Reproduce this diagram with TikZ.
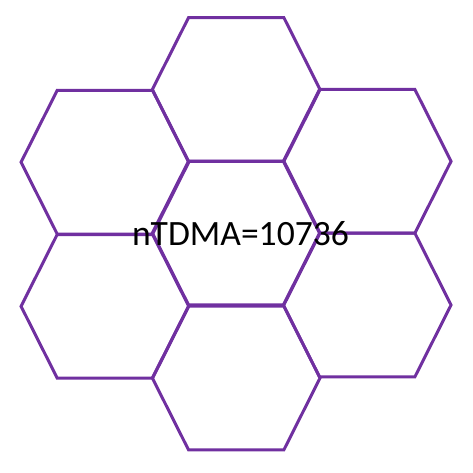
\documentclass[tikz,border=0pt]{standalone}
\usepackage{fontspec}
\setmainfont{Carlito}
\definecolor{hexpurple}{HTML}{7030A0}
\begin{document}
\begin{tikzpicture}[x=1pt,y=-1pt,
  hexcell/.style={draw=hexpurple,line width=3pt,line join=miter},
  lbl/.style={font=\fontsize{35.6}{40}\selectfont,text=black,inner sep=0pt,anchor=base}]
\useasboundingbox (0,0) rectangle (473,473);
\newcommand{\hexat}[3]{%
  \draw[hexcell] (#1-47.7,#2-71.8) coordinate (#3-a) -- (#1+47.7,#2-71.8) -- (#1+83.85,#2)
    -- (#1+47.7,#2+71.8) -- (#1-47.7,#2+71.8) -- (#1-83.85,#2) -- cycle;}
\hexat{236.2}{89.5}{top}
\hexat{236.2}{233}{mid}
\hexat{236.2}{378}{bot}
\hexat{104.9}{162.2}{lt}
\hexat{104.9}{306.3}{lb}
\hexat{367.2}{161.3}{rt}
\hexat{367.2}{305}{rb}
\node[lbl] (txt) at (240.5,245.5) {nTDMA=10736};
\end{tikzpicture}
\end{document}
